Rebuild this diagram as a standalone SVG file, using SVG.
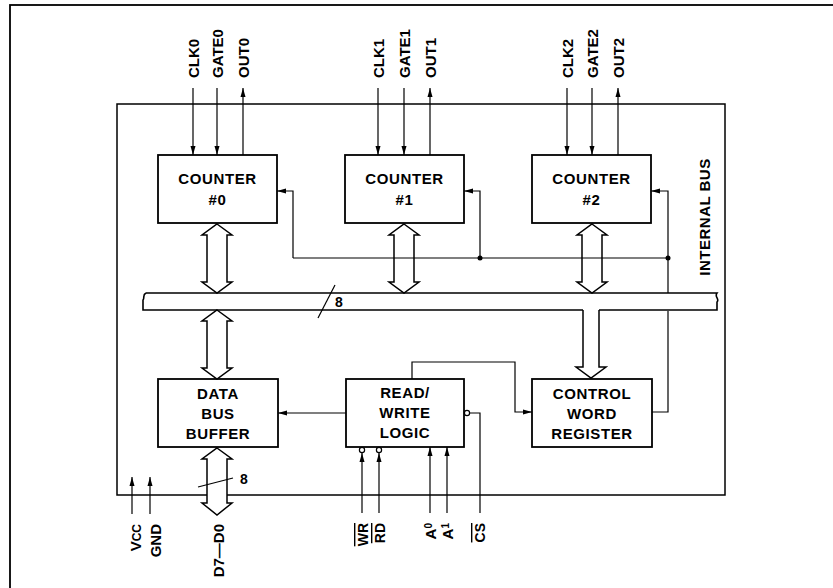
<svg xmlns="http://www.w3.org/2000/svg" width="833" height="588" viewBox="0 0 833 588">
<style>
.frame{fill:none;stroke:#000;stroke-width:1.8}
.box{fill:#fff;stroke:#000;stroke-width:1.8}
.ln{fill:none;stroke:#000;stroke-width:1.2}
.dbl{fill:#fff;stroke:#000;stroke-width:1.5;stroke-linejoin:miter}
.t{font-family:"Liberation Sans",Arial,sans-serif;font-weight:bold;font-size:15px;fill:#000}
.bt{text-anchor:middle;letter-spacing:0.6px}
.ov{text-decoration:overline}
</style>
<defs>
<marker id="ah" markerUnits="userSpaceOnUse" markerWidth="9" markerHeight="6" refX="9" refY="3" orient="auto">
<path d="M0,0.5 L9,3 L0,5.5 z" fill="#000"/>
</marker>
</defs>

<rect class="frame" x="10" y="5" width="830" height="600"/>
<rect id="chip" class="frame" x="117" y="104" width="608" height="391" style="stroke-width:1.5"/>

<g id="bus">
<path d="M146,293 L717,293 C714,297 720,299 717,302 L717,310 L599,310 M583,310 L143,310 L143,300 C145,298 142,295 146,293" class="frame" style="stroke-width:1.6"/>
<path d="M318,318 L335,285" class="ln"/>
<text class="t" x="335" y="307" style="font-size:14px">8</text>
<text class="t" transform="translate(710,217) rotate(-90)" text-anchor="middle" style="letter-spacing:0.5px">INTERNAL BUS</text>
</g>

<g id="counter0">
<rect class="box" x="158" y="155" width="119" height="68"/>
<text class="t bt" x="217.5" y="184">COUNTER</text>
<text class="t bt" x="217.5" y="205">#0</text>
</g>
<g id="counter1">
<rect class="box" x="345" y="155" width="119" height="68"/>
<text class="t bt" x="404.5" y="184">COUNTER</text>
<text class="t bt" x="404.5" y="205">#1</text>
</g>
<g id="counter2">
<rect class="box" x="532" y="155" width="119" height="68"/>
<text class="t bt" x="591.5" y="184">COUNTER</text>
<text class="t bt" x="591.5" y="205">#2</text>
</g>
<g id="databus">
<rect class="box" x="158" y="379" width="120" height="68"/>
<text class="t bt" x="218" y="399">DATA</text>
<text class="t bt" x="218" y="419">BUS</text>
<text class="t bt" x="218" y="439">BUFFER</text>
</g>
<g id="rwlogic">
<rect class="box" x="346" y="379" width="118" height="68"/>
<text class="t bt" x="405" y="398">READ/</text>
<text class="t bt" x="405" y="418">WRITE</text>
<text class="t bt" x="405" y="438">LOGIC</text>
</g>
<g id="cwr">
<rect class="box" x="532" y="379" width="120" height="68"/>
<text class="t bt" x="592" y="399">CONTROL</text>
<text class="t bt" x="592" y="419">WORD</text>
<text class="t bt" x="592" y="439">REGISTER</text>
</g>

<g id="connectors">
<!-- double arrows counters to bus -->
<path class="dbl" d="M217,224 L232,235 L227,235 L227,282 L232,282 L217,293 L202,282 L207,282 L207,235 L202,235 Z"/>
<path class="dbl" d="M404,224 L419,235 L414,235 L414,282 L419,282 L404,293 L389,282 L394,282 L394,235 L389,235 Z"/>
<path class="dbl" d="M592,224 L607,235 L602,235 L602,282 L607,282 L592,293 L577,282 L582,282 L582,235 L577,235 Z"/>
<!-- bus to data bus buffer -->
<path class="dbl" d="M217,310 L232,321 L227,321 L227,368 L232,368 L217,379 L202,368 L207,368 L207,321 L202,321 Z"/>
<!-- data bus buffer to D7-D0 -->
<path class="dbl" d="M217,448 L232,459 L227,459 L227,503 L232,503 L217,515 L202,503 L207,503 L207,459 L202,459 Z"/>
<path class="ln" d="M198,487 L233,478"/>
<text class="t" x="240" y="484" style="font-size:14px">8</text>
<!-- bus to control word register -->
<path class="dbl" d="M583,310 L583,367 L576,367 L591,378 L606,367 L599,367 L599,310"/>

<!-- control lines to counters -->
<path class="ln" d="M293,258 L293,191 L277,191" marker-end="url(#ah)"/>
<path class="ln" d="M480,258 L480,191 L464,191" marker-end="url(#ah)"/>
<path class="ln" d="M668,258 L668,191 L651,191" marker-end="url(#ah)"/>
<path class="ln" d="M293,258 L668,258 L668,293"/>
<path class="ln" d="M668,311 L668,412 L652,412"/>
<circle cx="480" cy="258" r="2.5"/>
<circle cx="668" cy="258" r="2.5"/>

<!-- R/W logic to DBB and CWR -->
<path class="ln" d="M346,413 L278,413" marker-end="url(#ah)"/>
<path class="ln" d="M412,379 L412,362 L515,362 L515,412 L532,412" marker-end="url(#ah)"/>

<!-- counter pins -->
<path class="ln" d="M193,88 L193,155" marker-end="url(#ah)"/>
<path class="ln" d="M217,88 L217,155" marker-end="url(#ah)"/>
<path class="ln" d="M243,155 L243,88" marker-end="url(#ah)"/>
<path class="ln" d="M378,88 L378,155" marker-end="url(#ah)"/>
<path class="ln" d="M404,88 L404,155" marker-end="url(#ah)"/>
<path class="ln" d="M430,155 L430,88" marker-end="url(#ah)"/>
<path class="ln" d="M567,88 L567,155" marker-end="url(#ah)"/>
<path class="ln" d="M592,88 L592,155" marker-end="url(#ah)"/>
<path class="ln" d="M618,155 L618,88" marker-end="url(#ah)"/>

<!-- bottom pins -->
<path class="ln" d="M132,514 L132,477" marker-end="url(#ah)"/>
<path class="ln" d="M150,514 L150,477" marker-end="url(#ah)"/>
<path class="ln" d="M362,513 L362,453" marker-end="url(#ah)"/>
<path class="ln" d="M379,513 L379,453" marker-end="url(#ah)"/>
<circle cx="362" cy="450" r="2.6" fill="#fff" stroke="#000" stroke-width="1.2"/>
<circle cx="379" cy="450" r="2.6" fill="#fff" stroke="#000" stroke-width="1.2"/>
<path class="ln" d="M430,513 L430,447" marker-end="url(#ah)"/>
<path class="ln" d="M447,513 L447,447" marker-end="url(#ah)"/>
<circle cx="467" cy="413" r="2.6" fill="#fff" stroke="#000" stroke-width="1.2"/>
<path class="ln" d="M469.6,413 L480,413 L480,513"/>
</g>

<g id="labels">
<text class="t" transform="translate(198.5,78) rotate(-90)">CLK0</text>
<text class="t" transform="translate(223,78) rotate(-90)">GATE0</text>
<text class="t" transform="translate(249,78) rotate(-90)">OUT0</text>
<text class="t" transform="translate(384,78) rotate(-90)">CLK1</text>
<text class="t" transform="translate(410,78) rotate(-90)">GATE1</text>
<text class="t" transform="translate(436,78) rotate(-90)">OUT1</text>
<text class="t" transform="translate(573,78) rotate(-90)">CLK2</text>
<text class="t" transform="translate(598,78) rotate(-90)">GATE2</text>
<text class="t" transform="translate(624,78) rotate(-90)">OUT2</text>

<text class="t" transform="translate(141,524) rotate(-90)" text-anchor="end">V<tspan style="font-size:12px">CC</tspan></text>
<text class="t" transform="translate(161,524) rotate(-90)" text-anchor="end">GND</text>
<text class="t" transform="translate(224,524) rotate(-90)" text-anchor="end">D7—D0</text>
<text class="t ov" transform="translate(368,523) rotate(-90)" text-anchor="end" style="font-size:14px">WR</text>
<text class="t ov" transform="translate(385,523) rotate(-90)" text-anchor="end" style="font-size:14px">RD</text>
<text class="t" transform="translate(436,523) rotate(-90)" text-anchor="end">A<tspan style="font-size:10px" dy="-4">0</tspan></text>
<text class="t" transform="translate(453,523) rotate(-90)" text-anchor="end">A<tspan style="font-size:10px" dy="-4">1</tspan></text>
<text class="t ov" transform="translate(485,523) rotate(-90)" text-anchor="end" style="font-size:14px">CS</text>
</g>
</svg>
